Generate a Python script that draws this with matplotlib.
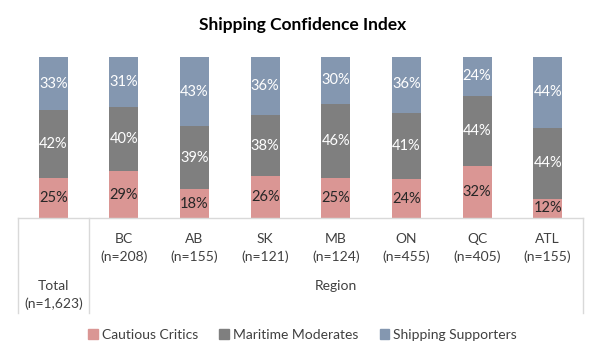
import matplotlib
matplotlib.use("Agg")
import matplotlib.pyplot as plt
import matplotlib.patches as mpatches
import numpy as np

plt.rcParams['font.family'] = ['Lato', 'DejaVu Sans']

# data
groups = ["Total", "BC", "AB", "SK", "MB", "ON", "QC", "ATL"]
counts = ["(n=1,623)", "(n=208)", "(n=155)", "(n=121)", "(n=124)", "(n=455)", "(n=405)", "(n=155)"]
series = ["Cautious Critics", "Maritime Moderates", "Shipping Supporters"]
cautious = [25, 29, 18, 26, 25, 24, 32, 12]
maritime = [42, 40, 39, 38, 46, 41, 44, 44]
shipping = [33, 31, 43, 36, 30, 36, 24, 44]

colors = ["#DA9694", "#7F7F7F", "#8497B0"]
label_colors = ["#262626", "white", "white"]
grid_col = "#D9D9D9"
text_col = "#404040"

fig = plt.figure(figsize=(6.02, 3.62), dpi=100)
ax = fig.add_axes([0.0299, 0.3978, 0.9385, 0.4448])

x = np.arange(len(groups))
bottom = np.zeros(len(groups))
for vals, c, lc, name in zip([cautious, maritime, shipping], colors, label_colors, series):
    vals = np.array(vals)
    ax.bar(x, vals, 0.41, bottom=bottom, color=c, label=name)
    for xi, b, v in zip(x, bottom, vals):
        ax.text(xi, b + v / 2, f"{v}%", ha="center", va="center",
                color=lc, fontsize=10.5)
    bottom += vals

ax.set_xlim(-0.5, len(groups) - 0.5)
ax.set_ylim(0, 100)
ax.set_xticks([])
ax.set_yticks([])
for s in ax.spines.values():
    s.set_visible(False)

# category table under the bars
tr = ax.get_xaxis_transform()
ybot = -0.59
ax.plot([-0.5, len(groups) - 0.5], [0, 0], color=grid_col, lw=1, transform=tr, clip_on=False)
for xv in [-0.5, 0.5, len(groups) - 0.5]:
    ax.plot([xv, xv], [0, ybot], color=grid_col, lw=1, transform=tr, clip_on=False)

for xi in x[1:]:
    ax.text(xi, -0.13, groups[xi], ha="center", va="center", transform=tr,
            fontsize=10, color=text_col)
    ax.text(xi, -0.242, counts[xi], ha="center", va="center", transform=tr,
            fontsize=10, color=text_col)
ax.text(0, -0.422, groups[0], ha="center", va="center", transform=tr,
        fontsize=10, color=text_col)
ax.text(0, -0.534, counts[0], ha="center", va="center", transform=tr,
        fontsize=10, color=text_col)
ax.text(4, -0.422, "Region", ha="center", va="center", transform=tr,
        fontsize=10, color=text_col)

fig.text(0.502, 0.931, "Shipping Confidence Index", ha="center", va="center",
         fontsize=12.5, fontweight="bold", color="black")

handles = [mpatches.Patch(color=c, label=n) for c, n in zip(colors, series)]
leg = fig.legend(handles=handles, loc="center", bbox_to_anchor=(0.503, 0.075), ncol=3,
                 frameon=False, fontsize=10, handlelength=0.7, handleheight=0.7,
                 handletextpad=0.3, columnspacing=1.5)
for t in leg.get_texts():
    t.set_color(text_col)

fig.savefig("out.png", dpi=100)
